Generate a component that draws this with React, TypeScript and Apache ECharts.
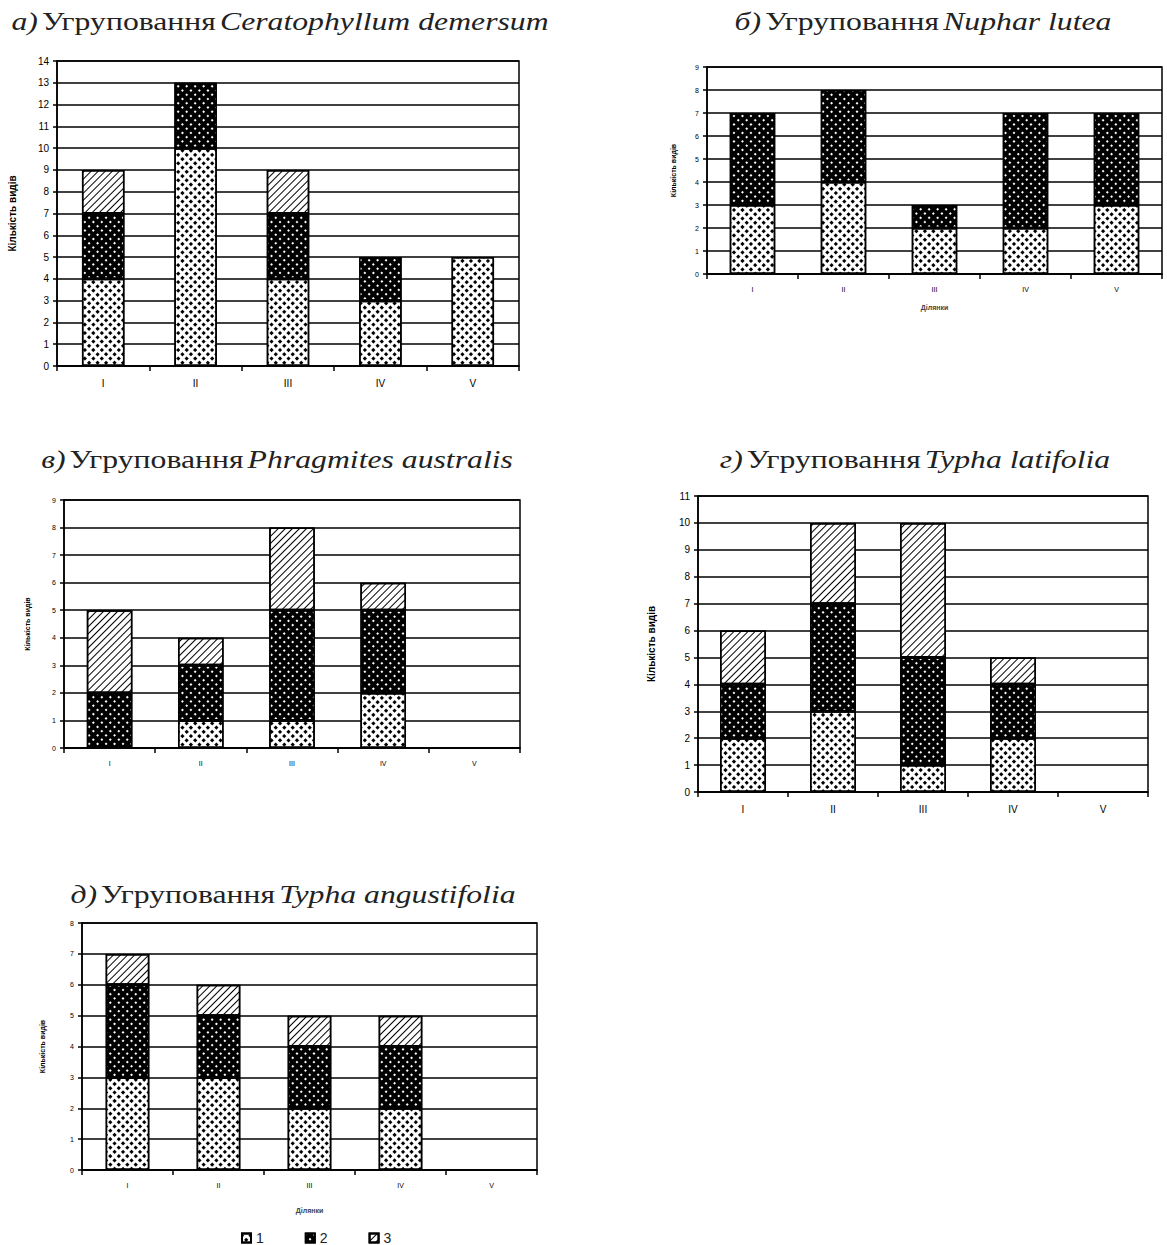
import React, { useEffect, useRef } from "react";
import * as echarts from "echarts";

const CATS = ["I", "II", "III", "IV", "V"];
const SERIES_NAMES = ["1", "2", "3"];

// а) Ceratophyllum demersum
const A1 = [4, 10, 4, 3, 5];
const A2 = [3, 3, 3, 2, 0];
const A3 = [2, 0, 2, 0, 0];
// б) Nuphar lutea
const B1 = [3, 4, 2, 2, 3];
const B2 = [4, 4, 1, 5, 4];
const B3 = [0, 0, 0, 0, 0];
// в) Phragmites australis
const C1 = [0, 1, 1, 2, 0];
const C2 = [2, 2, 4, 3, 0];
const C3 = [3, 1, 3, 1, 0];
// г) Typha latifolia
const D1 = [2, 3, 1, 2, 0];
const D2 = [2, 4, 4, 2, 0];
const D3 = [2, 3, 5, 1, 0];
// д) Typha angustifolia
const E1 = [3, 3, 2, 2, 0];
const E2 = [3, 2, 2, 2, 0];
const E3 = [1, 1, 1, 1, 0];

const Y_MAX = [14, 9, 9, 11, 8];
const TITLE_PREFIX = ["а)", "б)", "в)", "г)", "д)"];
const TITLE_WORD = "Угруповання";
const SPECIES = [
  "Ceratophyllum demersum",
  "Nuphar lutea",
  "Phragmites australis",
  "Typha latifolia",
  "Typha angustifolia",
];
const Y_NAME = "Кількість видів";
const X_NAME = "Ділянки";

const DATA = [
  [A1, A2, A3],
  [B1, B2, B3],
  [C1, C2, C3],
  [D1, D2, D3],
  [E1, E2, E3],
];

// layout (pixels)
const GRIDS = [
  { left: 57, top: 61, width: 462, height: 305 },
  { left: 707, top: 67, width: 455, height: 207 },
  { left: 64, top: 500, width: 456, height: 248 },
  { left: 698, top: 496, width: 450, height: 296 },
  { left: 82, top: 923, width: 455, height: 247 },
];
const TITLE_POS = [
  [280, 21],
  [923, 21],
  [277, 459],
  [915, 459],
  [293, 894],
];
const LABEL_SIZE = [10, 7, 7, 10, 7];
const NAME_SIZE = [10, 7, 7, 10, 7];
const NAME_GAP = [40, 30, 33, 42, 36];
const BAR_W = ["46%", "50%", "50%", "51%", "48%"];
const X_NAME_SHOW = [false, true, false, false, true];
const X_NAME_GAP = [38, 30, 38, 38, 37];

const SANS = "Liberation Sans";
const SERIF = "Liberation Serif";

const STYLES = [
  {
    color: "#ffffff",
    decal: {
      symbol: "rect",
      symbolSize: 1,
      color: "#000000",
      dashArrayX: [2.5, 2.6],
      dashArrayY: [2.5, 2.6],
      rotation: Math.PI / 4,
    },
  },
  {
    color: "#000000",
    decal: {
      symbol: "rect",
      symbolSize: 1,
      color: "#ffffff",
      dashArrayX: [1.3, 3.5],
      dashArrayY: [1.3, 3.5],
      rotation: Math.PI / 4,
    },
  },
  {
    color: "#ffffff",
    decal: {
      symbol: "rect",
      symbolSize: 1,
      color: "#000000",
      dashArrayX: [1, 0],
      dashArrayY: [0.9, 3.1],
      rotation: -Math.PI / 4,
    },
  },
];

function buildOption() {
  const grid: any[] = [];
  const xAxis: any[] = [];
  const yAxis: any[] = [];
  const series: any[] = [];
  const graphic: any[] = [];

  GRIDS.forEach((g, i) => {
    grid.push({
      ...g,
      show: true,
      borderColor: "#000",
      borderWidth: 1.5,
      backgroundColor: "#fff",
      containLabel: false,
    });
    xAxis.push({
      type: "category",
      gridIndex: i,
      data: CATS,
      name: X_NAME_SHOW[i] ? X_NAME : "",
      nameLocation: "middle",
      nameGap: X_NAME_GAP[i],
      nameTextStyle: { fontFamily: SANS, fontSize: 7, fontWeight: "bold", color: "#444" },
      axisLine: { show: true, lineStyle: { color: "#000", width: 1.5 } },
      axisTick: { show: true, alignWithLabel: false, length: 5, lineStyle: { color: "#000", width: 1.5 } },
      axisLabel: { fontFamily: SANS, fontSize: LABEL_SIZE[i], color: "#000", margin: 12 },
      splitLine: { show: false },
    });
    yAxis.push({
      type: "value",
      gridIndex: i,
      min: 0,
      max: Y_MAX[i],
      interval: 1,
      name: Y_NAME,
      nameLocation: "middle",
      nameRotate: 90,
      nameGap: NAME_GAP[i],
      nameTextStyle: { fontFamily: SANS, fontSize: NAME_SIZE[i], fontWeight: "bold", color: "#000" },
      axisLine: { show: true, lineStyle: { color: "#000", width: 1.5 } },
      axisTick: { show: true, inside: false, length: 4, lineStyle: { color: "#000", width: 1.5 } },
      axisLabel: { fontFamily: SANS, fontSize: LABEL_SIZE[i], color: "#000", margin: 8 },
      splitLine: { show: true, lineStyle: { color: "#000", width: 1.5 } },
    });
    DATA[i].forEach((vals, s) => {
      series.push({
        type: "bar",
        name: SERIES_NAMES[s],
        xAxisIndex: i,
        yAxisIndex: i,
        stack: "st" + i,
        barWidth: BAR_W[i],
        data: vals.map((v) => (v === 0 ? null : v)),
        itemStyle: {
          color: STYLES[s].color,
          decal: STYLES[s].decal,
          borderColor: "#000",
          borderWidth: 1.5,
        },
        emphasis: { disabled: true },
      });
    });
    graphic.push({
      type: "text",
      x: TITLE_POS[i][0],
      y: TITLE_POS[i][1],
      scaleX: 1.22,
      style: {
        text: `{i|${TITLE_PREFIX[i]}} {n|${TITLE_WORD}} {i|${SPECIES[i]}}`,
        align: "center",
        verticalAlign: "middle",
        rich: {
          i: { fontFamily: SERIF, fontSize: 26, fontStyle: "italic", fill: "#222" },
          n: { fontFamily: SERIF, fontSize: 26, fill: "#222" },
        },
      },
    });
  });

  return {
    animation: false,
    backgroundColor: "#fff",
    grid,
    xAxis,
    yAxis,
    series,
    graphic,
    legend: {
      data: SERIES_NAMES,
      left: 236,
      top: 1226,
      icon: "rect",
      itemWidth: 9,
      itemHeight: 9,
      itemGap: 41,
      selectedMode: false,
      textStyle: { fontFamily: SANS, fontSize: 14, lineHeight: 14, color: "#222" },
    },
  };
}

export default function App() {
  const ref = useRef<HTMLDivElement>(null);
  useEffect(() => {
    if (!ref.current) return;
    const chart = echarts.init(ref.current, null, { renderer: "svg" });
    chart.setOption(buildOption() as any);
    return () => chart.dispose();
  }, []);
  return (
    <div
      ref={ref}
      style={{ position: "absolute", left: 0, top: 0, width: 1167, height: 1245, background: "#fff" }}
    />
  );
}
